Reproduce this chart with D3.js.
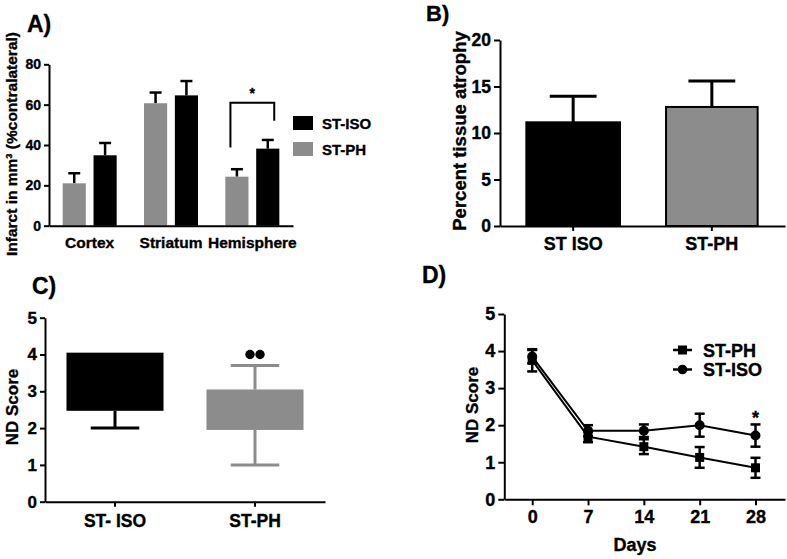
<!DOCTYPE html>
<html><head><meta charset="utf-8">
<script src="https://cdn.jsdelivr.net/npm/d3@7"></script>
<style>body{margin:0;background:#fff}svg{display:block}svg text{stroke:#000;stroke-width:0.35px}</style>
</head><body><svg id="c" width="787" height="559"></svg>
<script>
// ---------- DATA ----------
// Panel A
const regionsA = ["Cortex", "Striatum", "Hemisphere"];
const seriesA = ["ST-PH", "ST-ISO"];
const infarctPH = [21, 60.7, 24.3];
const infarctPHsem = [5, 5.3, 3.7];
const infarctISO = [34.9, 64.6, 38.2];
const infarctISOsem = [6.1, 7.1, 4.3];
const ticksA = [0, 20, 40, 60, 80];
const bracketA = [38.7, 61, 52]; // left foot, top, right foot (value units)
// Panel B
const groupsB = ["ST ISO", "ST-PH"];
const atrophyMean = [11.15, 12.8];
const atrophySem = [2.8, 2.8];
const ticksB = [0, 5, 10, 15, 20];
// Panel C
const groupsC = ["ST- ISO", "ST-PH"];
const boxMin = [2.0, 1.0];
const boxQ1 = [2.47, 1.95];
const boxQ3 = [4.05, 3.05];
const boxMax = [4.05, 3.7];
const outliersPH = [4.0, 4.0];
const ticksC = [0, 1, 2, 3, 4, 5];
// Panel D
const days = [0, 7, 14, 21, 28];
const ndPH = [3.75, 1.69, 1.42, 1.13, 0.85];
const ndPHsem = [0.3, 0.15, 0.2, 0.28, 0.27];
const ndISO = [3.85, 1.85, 1.85, 2.0, 1.72];
const ndISOsem = [0.18, 0.15, 0.17, 0.31, 0.3];
const ticksD = [0, 1, 2, 3, 4, 5];

// ---------- DRAW ----------
const FONT = '"Liberation Sans", Arial, sans-serif';
const GRAY = "#8c8c8c";
const svg = d3.select("#c");

function styleAxis(g, fs) {
  g.attr("font-family", FONT).attr("font-size", fs).attr("font-weight", "bold");
  g.select(".domain").attr("stroke", "#000").attr("stroke-width", 2);
  g.selectAll(".tick line").attr("stroke", "#000").attr("stroke-width", 2);
  g.selectAll(".tick text").attr("fill", "#000");
}
function label(x, y, txt, fs, anchor, rot) {
  const t = svg.append("text").attr("font-family", FONT).attr("font-weight", "bold")
    .attr("font-size", fs).attr("text-anchor", anchor || "start").attr("fill", "#000").text(txt);
  if (rot) t.attr("transform", `translate(${x},${y}) rotate(${rot})`);
  else t.attr("x", x).attr("y", y);
  return t;
}
function errBar(g, cx, y0, y1, capW, color, sw) {
  g.append("line").attr("x1", cx).attr("x2", cx).attr("y1", y0).attr("y2", y1)
    .attr("stroke", color).attr("stroke-width", sw);
  g.append("line").attr("x1", cx - capW / 2).attr("x2", cx + capW / 2).attr("y1", y1).attr("y2", y1)
    .attr("stroke", color).attr("stroke-width", sw);
}

// ===== Panel A =====
{
  const yA = d3.scaleLinear().domain([0, 80]).range([225.7, 64.3]);
  const xA = d3.scaleBand().domain(regionsA).range([49, 293]).paddingInner(0.336).paddingOuter(0.168);
  const xAi = d3.scaleBand().domain(seriesA).range([0, xA.bandwidth()]).paddingInner(0.25);
  const g = svg.append("g");
  const vals = { "ST-PH": [infarctPH, infarctPHsem, GRAY], "ST-ISO": [infarctISO, infarctISOsem, "#000"] };
  regionsA.forEach((r, i) => {
    seriesA.forEach(s => {
      const [m, e, col] = vals[s];
      const x0 = xA(r) + xAi(s);
      errBar(g, x0 + xAi.bandwidth() / 2, yA(m[i]), yA(m[i] + e[i]), 12, "#000", 2.5);
      g.append("rect").attr("x", x0).attr("width", xAi.bandwidth())
        .attr("y", yA(m[i])).attr("height", yA(0) - yA(m[i])).attr("fill", col);
    });
  });
  const ya = svg.append("g").attr("transform", "translate(49,0)")
    .call(d3.axisLeft(yA).tickValues(ticksA).tickSize(5).tickPadding(3).tickSizeOuter(0));
  styleAxis(ya, 14);
  const xa = svg.append("g").attr("transform", `translate(0,${yA(0)})`)
    .call(d3.axisBottom(xA).tickSize(0).tickPadding(11).tickSizeOuter(0));
  styleAxis(xa, 15.5);
  // bracket
  const h = "Hemisphere";
  const bl = xA(h) + xAi.bandwidth() * 0.22, br = xA(h) + xA.bandwidth() - xAi.bandwidth() * 0.22;
  svg.append("path").attr("d", `M${bl},${yA(bracketA[0])}V${yA(bracketA[1])}H${br}V${yA(bracketA[2])}`)
    .attr("fill", "none").attr("stroke", "#000").attr("stroke-width", 2);
  label((bl + br) / 2, yA(bracketA[1]) - 5, "*", 14, "middle");
  // legend
  const lx = xA.range()[1];
  [["ST-ISO", "#000", 116], ["ST-PH", GRAY, 142]].forEach(([t, c, y]) => {
    svg.append("rect").attr("x", lx).attr("y", y).attr("width", 20).attr("height", 14).attr("fill", c);
    label(lx + 29, y + 12.5, t, 15, "start");
  });
  label(17, 144, "Infarct in mm³ (%contralateral)", 15.5, "middle", -90);
  label(27, 32, "A)", 23, "start");
}

// ===== Panel B =====
{
  const yB = d3.scaleLinear().domain([0, 20]).range([226, 40]);
  const xB = d3.scaleBand().domain(groupsB).range([500, 785]).paddingInner(0.325).paddingOuter(0.19);
  const g = svg.append("g");
  groupsB.forEach((k, i) => {
    const cx = xB(k) + xB.bandwidth() / 2;
    errBar(g, cx, yB(atrophyMean[i]), yB(atrophyMean[i] + atrophySem[i]), xB.bandwidth() / 2, "#000", 3);
    g.append("rect").attr("x", xB(k) + (i ? 1 : 0)).attr("width", xB.bandwidth() - (i ? 2 : 0))
      .attr("y", yB(atrophyMean[i])).attr("height", yB(0) - yB(atrophyMean[i]))
      .attr("fill", i ? GRAY : "#000").attr("stroke", "#000").attr("stroke-width", 2);
  });
  const ya = svg.append("g").attr("transform", "translate(500,0)")
    .call(d3.axisLeft(yB).tickValues(ticksB).tickSize(6).tickPadding(3).tickSizeOuter(0));
  styleAxis(ya, 17.5);
  const xa = svg.append("g").attr("transform", `translate(0,${yB(0)})`)
    .call(d3.axisBottom(xB).tickSize(5).tickPadding(6).tickSizeOuter(0));
  styleAxis(xa, 18);
  label(466, 131, "Percent tissue atrophy", 18.5, "middle", -90);
  label(426, 21, "B)", 22, "start");
}

// ===== Panel C =====
{
  const yC = d3.scaleLinear().domain([0, 5]).range([501.7, 317.7]);
  const xC = d3.scaleBand().domain(groupsC).range([45, 325]).paddingInner(0.307).paddingOuter(0.1535);
  const g = svg.append("g");
  groupsC.forEach((k, i) => {
    const col = i ? GRAY : "#000";
    const cx = xC(k) + xC.bandwidth() / 2;
    const cw = xC.bandwidth() / 2;
    if (boxMin[i] < boxQ1[i]) errBar(g, cx, yC(boxQ1[i]), yC(boxMin[i]), cw, col, 3);
    if (boxMax[i] > boxQ3[i]) errBar(g, cx, yC(boxQ3[i]), yC(boxMax[i]), cw, col, 3);
    g.append("rect").attr("x", xC(k)).attr("width", xC.bandwidth())
      .attr("y", yC(boxQ3[i])).attr("height", yC(boxQ1[i]) - yC(boxQ3[i])).attr("fill", col);
  });
  const cxPH = xC("ST-PH") + xC.bandwidth() / 2;
  outliersPH.forEach((v, j) => {
    g.append("circle").attr("cx", cxPH + (j - 0.5) * 10).attr("cy", yC(v)).attr("r", 4.7).attr("fill", "#000");
  });
  const ya = svg.append("g").attr("transform", "translate(45,0)")
    .call(d3.axisLeft(yC).tickValues(ticksC).tickFormat(d3.format("d")).tickSize(5).tickPadding(3).tickSizeOuter(0));
  styleAxis(ya, 17);
  const xa = svg.append("g").attr("transform", `translate(0,${yC(0)})`)
    .call(d3.axisBottom(xC).tickSize(5).tickPadding(8).tickSizeOuter(0));
  styleAxis(xa, 17.5);
  label(18, 407, "ND Score", 17, "middle", -90);
  label(32, 294, "C)", 23, "start");
}

// ===== Panel D =====
{
  const yD = d3.scaleLinear().domain([0, 5]).range([499.3, 314]);
  const xD = d3.scaleLinear().domain([-3.5, 31.7]).range([504.3, 785]);
  const g = svg.append("g");
  const line = d3.line().x((d, i) => xD(days[i])).y(d => yD(d));
  [[ndPH, ndPHsem], [ndISO, ndISOsem]].forEach(([m, e]) => {
    g.append("path").attr("d", line(m)).attr("fill", "none").attr("stroke", "#000").attr("stroke-width", 2);
    m.forEach((v, i) => {
      const cx = xD(days[i]);
      errBar(g, cx, yD(v), yD(v + e[i]), 10, "#000", 2.5);
      errBar(g, cx, yD(v), yD(v - e[i]), 10, "#000", 2.5);
    });
  });
  ndPH.forEach((v, i) => g.append("rect").attr("x", xD(days[i]) - 4.5).attr("y", yD(v) - 4.5)
    .attr("width", 9).attr("height", 9).attr("fill", "#000"));
  ndISO.forEach((v, i) => g.append("circle").attr("cx", xD(days[i])).attr("cy", yD(v)).attr("r", 5).attr("fill", "#000"));
  const ya = svg.append("g").attr("transform", "translate(504.3,0)")
    .call(d3.axisLeft(yD).tickValues(ticksD).tickFormat(d3.format("d")).tickSize(6).tickPadding(3).tickSizeOuter(0));
  styleAxis(ya, 18);
  const xa = svg.append("g").attr("transform", `translate(0,${yD(0)})`)
    .call(d3.axisBottom(xD).tickValues(days).tickSize(6).tickPadding(5).tickSizeOuter(0));
  styleAxis(xa, 18);
  label(xD(28), 424, "*", 18, "middle");
  // legend
  [["ST-PH", 350, "sq"], ["ST-ISO", 369.5, "ci"]].forEach(([t, y, m]) => {
    svg.append("line").attr("x1", 673).attr("x2", 692).attr("y1", y).attr("y2", y).attr("stroke", "#000").attr("stroke-width", 2.5);
    if (m === "sq") svg.append("rect").attr("x", 678).attr("y", y - 4.5).attr("width", 9).attr("height", 9).attr("fill", "#000");
    else svg.append("circle").attr("cx", 682.5).attr("cy", y).attr("r", 4.8).attr("fill", "#000");
    label(703, y + 6.5, t, 18, "start");
  });
  label(635, 551, "Days", 18, "middle");
  label(478, 405, "ND Score", 17, "middle", -90);
  label(422, 283, "D)", 23, "start");
}
</script></body></html>
